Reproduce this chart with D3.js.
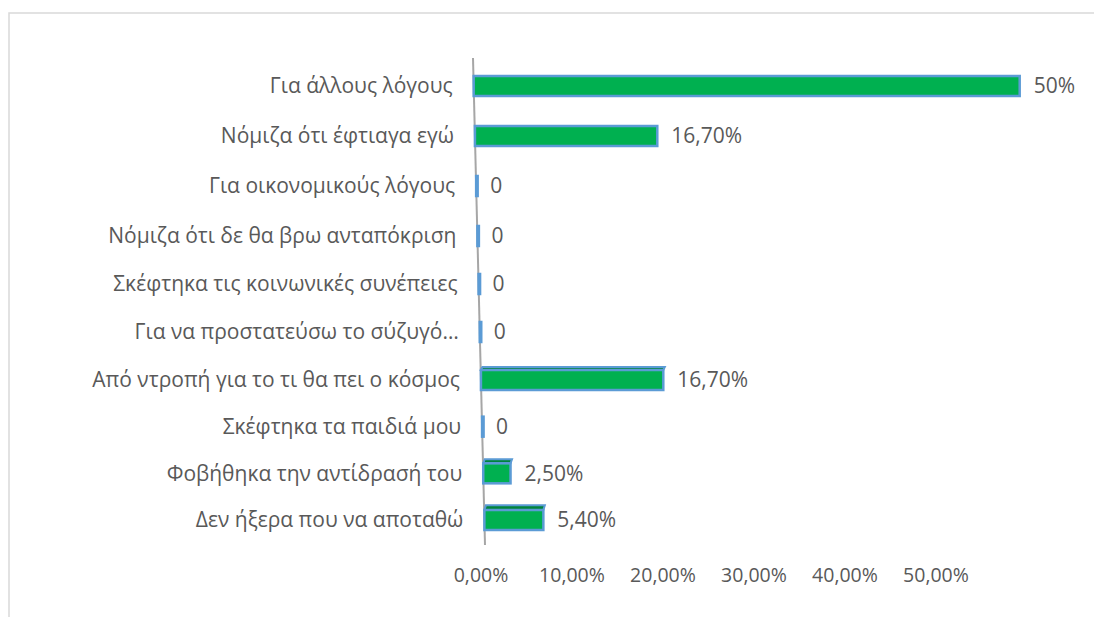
<!DOCTYPE html>
<html>
<head>
<meta charset="utf-8">
<script src="https://cdn.jsdelivr.net/npm/d3@7"></script>
<style>
  body { margin: 0; background: #fff; }
  text { font-family: "Open Sans", "Noto Sans", sans-serif; fill: #595959; }
</style>
</head>
<body>
<script>
const categories = [
  "Για άλλους λόγους",
  "Νόμιζα ότι έφτιαγα εγώ",
  "Για οικονομικούς λόγους",
  "Νόμιζα ότι δε θα βρω ανταπόκριση",
  "Σκέφτηκα τις κοινωνικές συνέπειες",
  "Για να προστατεύσω το σύζυγό…",
  "Από ντροπή για το τι θα πει ο κόσμος",
  "Σκέφτηκα τα παιδιά μου",
  "Φοβήθηκα την αντίδρασή του",
  "Δεν ήξερα που να αποταθώ"
];
const values = [0.50, 0.167, 0, 0, 0, 0, 0.167, 0, 0.025, 0.054];
const valueLabels = ["50%", "16,70%", "0", "0", "0", "0", "16,70%", "0", "2,50%", "5,40%"];
const tickValues = [0, 0.1, 0.2, 0.3, 0.4, 0.5];

const width = 1094, height = 617;
const fontSize = 21;

const gr = d3.formatLocale({decimal: ",", thousands: ".", grouping: [3], currency: ["", "€"]});
const tickFormat = gr.format(".2%");

const svg = d3.select("body").append("svg")
    .attr("width", width)
    .attr("height", height);

// chart frame (right and bottom edges fall outside the picture)
svg.append("rect")
    .attr("x", 9).attr("y", 13)
    .attr("width", width + 20).attr("height", height)
    .attr("fill", "none")
    .attr("stroke", "#d9d9d9")
    .attr("stroke-width", 1.5);

// perspective: rows get a bit closer together toward the bottom
const y = d3.scaleLinear().domain([0, 3, 6, 9]).range([86, 236, 380, 520]);
// the value axis leans slightly to the right
const axisX = d3.scaleLinear().domain([58, 545]).range([473, 485]);
const len = d3.scaleLinear().domain([0, 0.5]).range([0, 546]);
const tickX = d3.scaleLinear().domain([0, 0.5]).range([481, 936]);

const rows = categories.map((c, i) => ({
  cat: c, v: values[i], label: valueLabels[i], i: i,
  cy: y(i), x0: axisX(y(i))
}));

// axis line
svg.append("line")
    .attr("x1", axisX(58)).attr("y1", 58)
    .attr("x2", axisX(545)).attr("y2", 545)
    .attr("stroke", "#a6a6a6")
    .attr("stroke-width", 2);

const barH = 20;
const depth = d => Math.max(0, (d.cy - 130) * 0.012);

const g = svg.append("g").selectAll("g").data(rows).join("g");

// top face
g.filter(d => d.v > 0 && depth(d) > 0.8)
  .append("path")
    .attr("d", d => {
      const w = len(d.v), t = d.cy - barH / 2, dz = depth(d);
      return `M${d.x0},${t} L${d.x0 + 1.5},${t - dz} L${d.x0 + w + 1.5},${t - dz} L${d.x0 + w},${t} Z`;
    })
    .attr("fill", "#00843c")
    .attr("stroke", "#5b9bd5")
    .attr("stroke-width", 2);

// front face
g.append("rect")
    .attr("x", d => d.x0)
    .attr("y", d => d.cy - barH / 2)
    .attr("width", d => Math.max(len(d.v), 1.5))
    .attr("height", barH)
    .attr("fill", d => d.v > 0 ? "#00b050" : "#0a7a45")
    .attr("stroke", "#5b9bd5")
    .attr("stroke-width", 2.5);

// value labels
g.append("text")
    .attr("x", d => d.x0 + len(d.v) + 14)
    .attr("y", d => d.cy)
    .attr("dy", "0.35em")
    .style("font-size", fontSize + "px")
    .text(d => d.label);

// category labels
g.append("text")
    .attr("x", d => d.x0 - 21)
    .attr("y", d => d.cy)
    .attr("dy", "0.35em")
    .attr("text-anchor", "end")
    .style("font-size", fontSize + "px")
    .text(d => d.cat);

// tick labels along the front edge
svg.append("g").selectAll("text")
  .data(tickValues)
  .join("text")
    .attr("x", d => tickX(d))
    .attr("y", 575)
    .attr("dy", "0.35em")
    .attr("text-anchor", "middle")
    .style("font-size", "19.5px")
    .text(d => tickFormat(d));
</script>
</body>
</html>
